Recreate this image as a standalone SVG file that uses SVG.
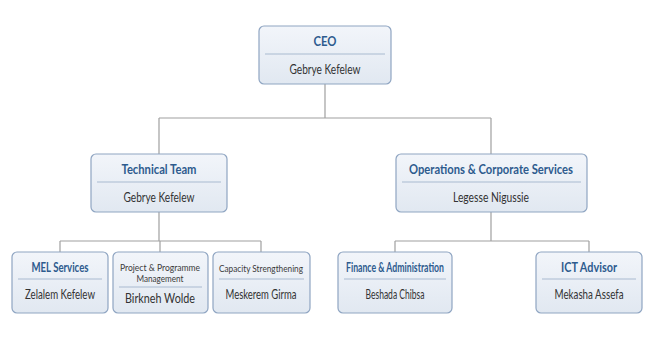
<svg xmlns="http://www.w3.org/2000/svg" width="670" height="354" viewBox="0 0 670 354">
<defs>
<linearGradient id="g" x1="0" y1="0" x2="0" y2="1">
<stop offset="0" stop-color="#f2f5fa"/>
<stop offset="1" stop-color="#e1e8f1"/>
</linearGradient>
</defs>
<style>
.box{fill:url(#g);stroke:#8fa5c2;stroke-width:1.2}
.div{stroke:#a9bad0;stroke-width:1}
.t{font-family:"Lato","Liberation Sans",sans-serif;font-weight:bold;font-size:12.5px;fill:#2d5b8e;text-anchor:middle}
.n{font-family:"Lato","Liberation Sans",sans-serif;font-size:12.5px;fill:#333;text-anchor:middle}
.s{font-family:"Lato","Liberation Sans",sans-serif;font-size:10px;fill:#3a3a3a;text-anchor:middle}
.c{fill:none;stroke:#a0a0a0;stroke-width:1.2}
</style>
<rect width="670" height="354" fill="#fff"/>
<g id="connectors">
<path class="c" d="M325 84V118M159 118H491M159 118V154M491 118V154"/>
<path class="c" d="M159 212V241M60 241H261M60 241V252M160 241V252M261 241V252"/>
<path class="c" d="M491 212V241M395 241H589M395 241V252M589 241V252"/>
</g>
<g id="ceo">
<rect class="box" x="259" y="26" width="132" height="58" rx="5"/>
<line class="div" x1="265" y1="54" x2="385" y2="54"/>
<text class="t" x="325" y="46" textLength="23" lengthAdjust="spacingAndGlyphs">CEO</text>
<text class="n" x="325" y="74" textLength="71" lengthAdjust="spacingAndGlyphs">Gebrye Kefelew</text>
</g>
<g id="technical">
<rect class="box" x="91" y="154" width="136" height="58" rx="5"/>
<line class="div" x1="97" y1="182" x2="221" y2="182"/>
<text class="t" x="159" y="174" textLength="75" lengthAdjust="spacingAndGlyphs">Technical Team</text>
<text class="n" x="159" y="202" textLength="71" lengthAdjust="spacingAndGlyphs">Gebrye Kefelew</text>
</g>
<g id="operations">
<rect class="box" x="396" y="154" width="191" height="58" rx="5"/>
<line class="div" x1="402" y1="182" x2="581" y2="182"/>
<text class="t" x="491" y="174" textLength="164" lengthAdjust="spacingAndGlyphs">Operations &amp; Corporate Services</text>
<text class="n" x="491" y="202" textLength="76" lengthAdjust="spacingAndGlyphs">Legesse Nigussie</text>
</g>
<g id="mel">
<rect class="box" x="12" y="252" width="96" height="61" rx="5"/>
<line class="div" x1="18" y1="279" x2="102" y2="279"/>
<text class="t" x="60" y="272" textLength="57" lengthAdjust="spacingAndGlyphs">MEL Services</text>
<text class="n" x="60" y="299" textLength="70" lengthAdjust="spacingAndGlyphs">Zelalem Kefelew</text>
</g>
<g id="ppm">
<rect class="box" x="113" y="252" width="95" height="61" rx="5"/>
<line class="div" x1="119" y1="287" x2="202" y2="287"/>
<text class="s" x="160" y="271" textLength="80" lengthAdjust="spacingAndGlyphs">Project &amp; Programme</text>
<text class="s" x="160" y="282" textLength="47" lengthAdjust="spacingAndGlyphs">Management</text>
<text class="n" x="160" y="303" textLength="70" lengthAdjust="spacingAndGlyphs">Birkneh Wolde</text>
</g>
<g id="capacity">
<rect class="box" x="213" y="252" width="97" height="61" rx="5"/>
<line class="div" x1="219" y1="279" x2="304" y2="279"/>
<text class="s" x="261" y="272" textLength="84" lengthAdjust="spacingAndGlyphs">Capacity Strengthening</text>
<text class="n" x="261" y="299" textLength="71" lengthAdjust="spacingAndGlyphs">Meskerem Girma</text>
</g>
<g id="finance">
<rect class="box" x="338" y="252" width="114" height="61" rx="5"/>
<line class="div" x1="344" y1="279" x2="446" y2="279"/>
<text class="t" x="395" y="272" font-size="11" textLength="98" lengthAdjust="spacingAndGlyphs">Finance &amp; Administration</text>
<text class="n" x="395" y="299" textLength="59" lengthAdjust="spacingAndGlyphs">Beshada Chibsa</text>
</g>
<g id="ict">
<rect class="box" x="536" y="252" width="106" height="61" rx="5"/>
<line class="div" x1="542" y1="279" x2="636" y2="279"/>
<text class="t" x="589" y="272" textLength="56" lengthAdjust="spacingAndGlyphs">ICT Advisor</text>
<text class="n" x="589" y="299" textLength="69" lengthAdjust="spacingAndGlyphs">Mekasha Assefa</text>
</g>
</svg>
